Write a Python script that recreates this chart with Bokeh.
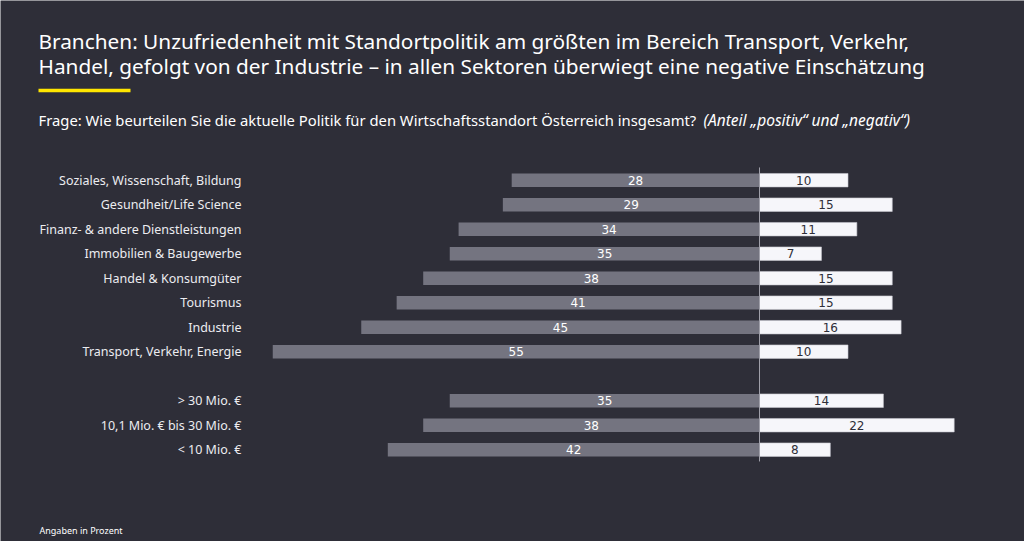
from bokeh.plotting import figure
from bokeh.models import Range1d, Label, BoxAnnotation, ColumnDataSource
from bokeh.core.properties import value
from bokeh.embed import file_html
from bokeh.resources import INLINE

# ---------------- data ----------------
categories = [
    "Soziales, Wissenschaft, Bildung",
    "Gesundheit/Life Science",
    "Finanz- & andere Dienstleistungen",
    "Immobilien & Baugewerbe",
    "Handel & Konsumgüter",
    "Tourismus",
    "Industrie",
    "Transport, Verkehr, Energie",
    "> 30 Mio. €",
    "10,1 Mio. € bis 30 Mio. €",
    "< 10 Mio. €",
]
negative = [28, 29, 34, 35, 38, 41, 45, 55, 35, 38, 42]
positive = [10, 15, 11, 7, 15, 15, 16, 10, 14, 22, 8]
# row slots (slot 8 is an empty spacer between sectors and company size)
rows = [0, 1, 2, 3, 4, 5, 6, 7, 9, 10, 11]

title_lines = [
    "Branchen: Unzufriedenheit mit Standortpolitik am größten im Bereich Transport, Verkehr,",
    "Handel, gefolgt von der Industrie – in allen Sektoren überwiegt eine negative Einschätzung",
]
subtitle = "Frage: Wie beurteilen Sie die aktuelle Politik für den Wirtschaftsstandort Österreich insgesamt?"
subtitle_italic = "(Anteil „positiv“ und „negativ“)"
footer = "Angaben in Prozent"

# ---------------- style / layout ----------------
BG = "#2e2e38"
GREY = "#747480"
LIGHT = "#f6f6fa"
TXT = "#ececf0"
FONT = "Noto Sans"

W, H = 1024, 541
scale = 8.85          # px per percent point
cx = 759              # canvas x of the zero line
row_h = 24.5          # px per row slot
row0 = 179.7          # canvas y (from top) of first row

p = figure(
    width=W, height=H,
    x_range=Range1d(-cx / scale, (W - cx) / scale),
    y_range=Range1d((H - row0) / row_h, -row0 / row_h),
    output_backend="svg", toolbar_location=None, tools="",
    x_axis_location=None, y_axis_location=None,
    min_border=0, background_fill_color=BG, border_fill_color=BG,
    outline_line_color=None,
)
p.grid.visible = False

neg_left = [-v for v in negative]
src = ColumnDataSource(dict(
    y=rows, cat=categories,
    neg_left=neg_left, pos=positive,
    neg_mid=[-v / 2 for v in negative], pos_mid=[v / 2 for v in positive],
    neg_txt=[str(v) for v in negative], pos_txt=[str(v) for v in positive],
))

p.hbar(y="y", left="neg_left", right=0, height=0.55, source=src,
       fill_color=GREY, line_color=None)
p.hbar(y="y", left=0, right="pos", height=0.55, source=src,
       fill_color=LIGHT, line_color="#c8c8d0", line_width=0.6)

p.segment(x0=[0], y0=[-0.52], x1=[0], y1=[11.48], line_color="#a0a0aa", line_width=1)

p.text(x="neg_mid", y="y", text="neg_txt", source=src, text_align="center",
       text_baseline="middle", text_color="#ffffff", text_font_size="12px",
       text_font=value("DejaVu Sans"))
p.text(x="pos_mid", y="y", text="pos_txt", source=src, text_align="center",
       text_baseline="middle", text_color=BG, text_font_size="12px",
       text_font=value("DejaVu Sans"))

label_x = (241 - cx) / scale
p.text(x=label_x, y="y", text="cat", source=src, text_align="right",
       text_baseline="middle", text_color=TXT, text_font_size="12.5px",
       text_font=value(FONT))

# titles (screen units measured from the bottom of the canvas)
for txt, base in zip(title_lines, [40, 65]):
    p.add_layout(Label(x=38, y=H - base, x_units="screen", y_units="screen", text=txt,
                       text_color="#ffffff", text_font_size="20.8px",
                       text_font=FONT, text_baseline="alphabetic"))

p.add_layout(BoxAnnotation(left=38, right=130, bottom=H - 91.7, top=H - 88.3,
                           left_units="screen", right_units="screen",
                           bottom_units="screen", top_units="screen",
                           fill_color="#ffe600", fill_alpha=1, line_color=None))

p.add_layout(Label(x=38, y=H - 119, x_units="screen", y_units="screen", text=subtitle,
                   text_color="#ffffff", text_font_size="14.8px", text_font=FONT,
                   text_baseline="alphabetic"))
p.add_layout(Label(x=703, y=H - 119, x_units="screen", y_units="screen", text=subtitle_italic,
                   text_color="#ffffff", text_font_size="15.5px", text_font=FONT,
                   text_font_style="italic", text_baseline="alphabetic"))

p.add_layout(Label(x=39, y=H - 530, x_units="screen", y_units="screen", text=footer,
                   text_color="#ffffff", text_font_size="9px", text_font=FONT,
                   text_baseline="alphabetic"))

open("out.html", "w").write(file_html(p, INLINE))
